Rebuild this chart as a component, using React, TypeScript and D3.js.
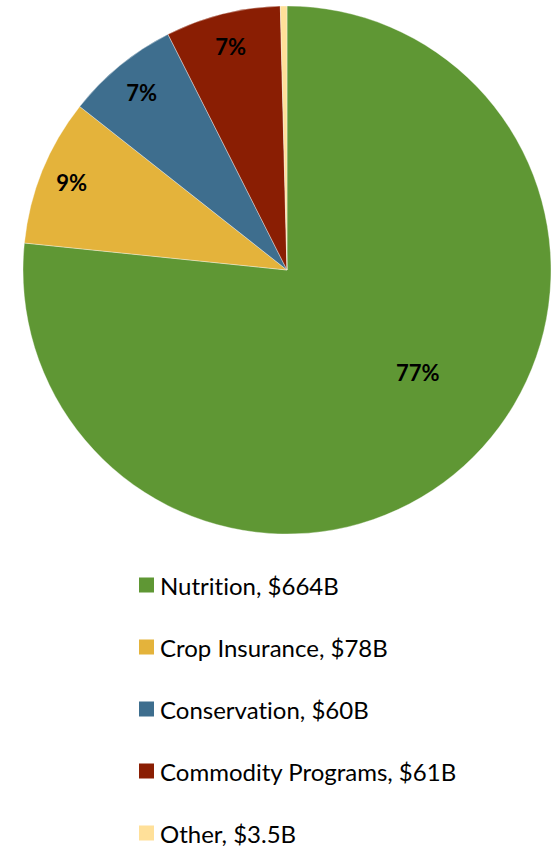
import React from "react";
import * as d3 from "d3";

const categories = ["Nutrition", "Crop Insurance", "Conservation", "Commodity Programs", "Other"];
const values = [664, 78, 60, 61, 3.5];
const valueLabels = ["$664B", "$78B", "$60B", "$61B", "$3.5B"];
const colors = ["#5F9734", "#E4B33B", "#3E6E8E", "#8A1E03", "#FFE099"];
// label placement: radius fraction and angle offset (radians) per slice
const labelRadius = [0.63, 0.88, 0.87, 0.875, 0];
const labelAngleOffset = [-0.17, 0, 0, 0, 0];
const showLabel = [true, true, true, true, false];

const W = 555;
const H = 846;

export default function App() {
  const cx = 287;
  const cy = 270;
  const r = 264;
  const total = d3.sum(values);
  const pie = d3.pie<number>().sort(null).value((d) => d);
  const arcs = pie(values);
  const arc = d3.arc<d3.PieArcDatum<number>>().innerRadius(0).outerRadius(r);
  const fmt = d3.format(".0%");

  const legendY = d3.scalePoint<number>().domain(d3.range(categories.length)).range([585, 833]);

  return (
    <svg
      width={W}
      height={H}
      style={{ position: "absolute", left: 0, top: 0, display: "block", background: "#fff" }}
    >
      <g transform={`translate(${cx},${cy})`}>
        {arcs.map((a, i) => (
          <path key={i} d={arc(a) || ""} fill={colors[i]} stroke="#ffffff" strokeOpacity={0.6} strokeWidth={0.6} />
        ))}
        {arcs.map((a, i) => {
          if (!showLabel[i]) return null;
          const mid = (a.startAngle + a.endAngle) / 2 + labelAngleOffset[i];
          const rr = r * labelRadius[i];
          const x = Math.sin(mid) * rr;
          const y = -Math.cos(mid) * rr;
          return (
            <text
              key={"l" + i}
              x={x}
              y={y}
              textAnchor="middle"
              dominantBaseline="central"
              fontFamily="Lato, 'Open Sans', sans-serif"
              fontWeight={700}
              fontSize={22}
              fill="#000"
            >
              {fmt(values[i] / total)}
            </text>
          );
        })}
      </g>
      <g>
        {categories.map((c, i) => {
          const y = legendY(i) as number;
          return (
            <g key={"lg" + i}>
              <rect x={139} y={y - 7.5} width={15} height={15} fill={colors[i]} />
              <text
                x={160}
                y={y}
                dominantBaseline="central"
                fontFamily="Lato, 'Open Sans', sans-serif"
                fontSize={24}
                fill="#000"
                style={{ fontVariantLigatures: "none" }}
              >
                {`${c}, ${valueLabels[i]}`}
              </text>
            </g>
          );
        })}
      </g>
    </svg>
  );
}
